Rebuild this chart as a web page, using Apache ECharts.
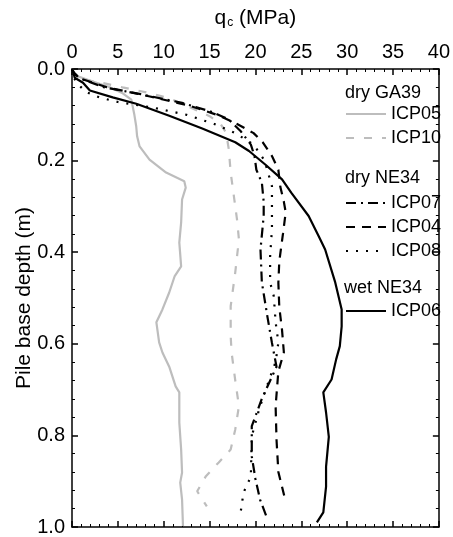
<!DOCTYPE html>
<html>
<head>
<meta charset="utf-8">
<script src="https://cdn.jsdelivr.net/npm/echarts@6/dist/echarts.min.js"></script>
<style>
html,body{margin:0;padding:0;background:#fff;}
#chart{width:453px;height:537px;}
</style>
</head>
<body>
<div id="chart"></div>
<script>
// Depth (m) and q_c (MPa) for each test
var icp05Depth = [0,0.014,0.025,0.040,0.053,0.067,0.080,0.100,0.125,0.147,0.169,0.198,0.226,0.245,0.259,0.285,0.335,0.379,0.431,0.452,0.488,0.525,0.553,0.597,0.619,0.650,0.693,0.706,0.772,0.831,0.881,0.903,0.940,0.998];
var icp05Qc    = [0,0.33,1.95,4.12,5.53,6.47,6.6,6.8,7.0,7.1,7.37,8.45,10.26,12.24,12.4,12.0,11.9,11.7,11.9,11.2,10.6,9.86,9.2,9.5,9.86,10.6,11.3,11.7,11.7,11.9,12.0,11.8,12.0,12.1];

var icp10Depth = [0,0.012,0.025,0.029,0.040,0.051,0.064,0.083,0.103,0.120,0.139,0.176,0.226,0.285,0.330,0.372,0.444,0.518,0.583,0.619,0.680,0.736,0.787,0.831,0.859,0.889,0.922,0.955];
var icp10Qc    = [0,0.4,1.6,3.0,5.5,8.1,10.6,12.8,15.0,16.2,16.8,17.1,17.3,17.7,18.0,18.2,17.8,17.3,17.3,17.4,17.8,18.2,17.8,17.3,16.0,14.6,13.65,14.7];

var icp07Depth = [0,0.008,0.02,0.04,0.055,0.074,0.092,0.110,0.136,0.165,0.19,0.22,0.248,0.29,0.321,0.394,0.466,0.54,0.598,0.65,0.72,0.78,0.846,0.895,0.94,0.977];
var icp07Qc    = [0,0.2,0.8,3.5,7.5,12.0,15.0,17.1,18.4,19.5,19.9,20.1,20.7,20.9,20.9,20.55,20.7,21.3,21.8,22.3,20.7,19.6,19.6,20.0,20.5,21.2];

var icp04Depth = [0,0.008,0.02,0.04,0.06,0.08,0.10,0.12,0.14,0.16,0.19,0.22,0.256,0.29,0.313,0.36,0.42,0.467,0.52,0.57,0.619,0.66,0.736,0.81,0.88,0.945];
var icp04Qc    = [0,0.2,0.8,3.8,8.5,12.8,15.8,18.0,19.8,20.8,21.8,22.5,22.7,23.1,23.3,23.0,22.6,22.5,22.6,22.9,23.1,22.5,22.2,22.3,22.5,23.3];

var icp08Depth = [0,0.015,0.03,0.05,0.062,0.072,0.085,0.10,0.12,0.14,0.165,0.20,0.256,0.285,0.35,0.409,0.466,0.496,0.553,0.597,0.64,0.678,0.743,0.802,0.89,0.925,0.966];
var icp08Qc    = [0,0.1,0.5,1.5,3.0,5.0,9.0,12.5,15.5,17.8,19.8,21.0,21.8,21.8,21.8,21.6,21.6,22.0,22.2,22.5,22.2,21.5,20.4,19.6,19.5,18.7,18.4];

var icp06Depth = [0,0.005,0.019,0.030,0.047,0.062,0.076,0.102,0.130,0.160,0.179,0.209,0.241,0.270,0.321,0.365,0.394,0.466,0.525,0.562,0.605,0.634,0.678,0.706,0.750,0.803,0.868,0.912,0.968,0.990];
var icp06Qc    = [0,0.1,0.3,1.2,1.95,4.44,7.01,10.6,14.2,17.8,19.3,21.1,22.9,23.9,25.8,26.9,27.6,28.7,29.4,29.4,29.2,28.8,28.3,27.4,27.7,28.0,27.7,27.7,27.4,26.7];

var xTicks = [0,5,10,15,20,25,30,35,40];
var yTicks = [0.0,0.2,0.4,0.6,0.8,1.0];

function pairs(q, d){ return q.map(function(v,i){ return [v, d[i]]; }); }

var FONT = 'Liberation Sans, Arial, sans-serif';
var GRAY = '#bdbdbd';

function mkSeries(name, q, d, color, type, width){
  return {
    name: name, type: 'line', xAxisIndex: 0, yAxisIndex: 0,
    data: pairs(q, d), symbol: 'none', showSymbol: false, smooth: false, silent: true,
    animation: false,
    lineStyle: { color: color, width: width, type: type, cap: 'butt' },
    itemStyle: { color: color }
  };
}

var axisCommon = {
  axisLine: { show: true, onZero: false, lineStyle: { color: '#000', width: 1.5 } },
  axisTick: { show: true, inside: true, length: 6, lineStyle: { color: '#000', width: 1.5 } },
  minorTick: { show: true, splitNumber: 5, length: 3, lineStyle: { color: '#000', width: 1 } },
  splitLine: { show: false },
  minorSplitLine: { show: false }
};

function legendCfg(names, top){
  return {
    orient: 'vertical', left: 340, top: top,
    itemWidth: 40, itemHeight: 20, itemGap: 6,
    data: names,
    selectedMode: false,
    itemStyle: { opacity: 0, color: 'rgba(0,0,0,0)', borderWidth: 0 },
    textStyle: { fontFamily: FONT, fontSize: 18, color: '#000', padding: [0,0,0,0] }
  };
}

var chart = echarts.init(document.getElementById('chart'), null, { renderer: 'canvas' });
chart.setOption({
  animation: false,
  backgroundColor: '#fff',
  grid: { left: 72, right: 11.5, top: 69, bottom: 9.5, containLabel: false },
  xAxis: [
    Object.assign({}, axisCommon, {
      type: 'value', position: 'top', min: xTicks[0], max: xTicks[xTicks.length-1], interval: 5,
      name: '{q|q}{s|c}{n| (MPa)}', nameLocation: 'middle', nameGap: 40, nameMoveOverlap: false,
      nameTextStyle: { rich: {
        q: { fontFamily: FONT, fontSize: 21, color: '#000' },
        s: { fontFamily: FONT, fontSize: 12, color: '#000', verticalAlign: 'bottom', padding: [10,0,0,1] },
        n: { fontFamily: FONT, fontSize: 21, color: '#000' }
      } },
      axisLabel: { show: true, margin: 7, fontFamily: FONT, fontSize: 20, color: '#000' }
    }),
    Object.assign({}, axisCommon, {
      type: 'value', position: 'bottom', min: 0, max: 40, interval: 5,
      axisLabel: { show: false }
    })
  ],
  yAxis: [
    Object.assign({}, axisCommon, {
      type: 'value', inverse: true, position: 'left', min: yTicks[0], max: yTicks[yTicks.length-1], interval: 0.2,
      name: 'Pile base depth (m)', nameLocation: 'middle', nameGap: 37, nameMoveOverlap: false,
      nameTextStyle: { fontFamily: FONT, fontSize: 21, color: '#000' },
      axisLabel: { show: true, margin: 7, fontFamily: FONT, fontSize: 20, color: '#000',
        formatter: function(v){ return v.toFixed(1); } }
    }),
    Object.assign({}, axisCommon, {
      type: 'value', inverse: true, position: 'right', min: 0, max: 1, interval: 0.2,
      axisLabel: { show: false }
    })
  ],
  legend: [
    legendCfg(['ICP05','ICP10'], 100),
    legendCfg(['ICP07','ICP04','ICP08'], 189),
    legendCfg(['ICP06'], 297)
  ],
  graphic: [
    { type: 'text', left: 345, top: 84, style: { text: 'dry GA39', font: '18px ' + FONT, fill: '#000' } },
    { type: 'text', left: 345, top: 169, style: { text: 'dry NE34', font: '18px ' + FONT, fill: '#000' } },
    { type: 'text', left: 344, top: 279, style: { text: 'wet NE34', font: '18px ' + FONT, fill: '#000' } }
  ],
  series: [
    mkSeries('ICP05', icp05Qc, icp05Depth, GRAY, 'solid', 2.2),
    mkSeries('ICP10', icp10Qc, icp10Depth, GRAY, [8,10], 2.2),
    mkSeries('ICP07', icp07Qc, icp07Depth, '#000', [10,5,2,5], 2.2),
    mkSeries('ICP04', icp04Qc, icp04Depth, '#000', [9,7], 2.2),
    mkSeries('ICP08', icp08Qc, icp08Depth, '#000', [2,8], 2.2),
    mkSeries('ICP06', icp06Qc, icp06Depth, '#000', 'solid', 2.2)
  ]
});
</script>
</body>
</html>
